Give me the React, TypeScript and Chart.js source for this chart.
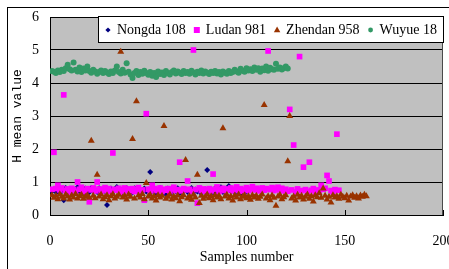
import React, { useEffect, useRef } from "react";
import { Chart, registerables } from "chart.js";

Chart.register(...registerables);

// ---------------- data ----------------
const seriesNames = ["Nongda 108", "Ludan 981", "Zhendan 958", "Wuyue 18"];

const nongda108 = [
  0.72, 0.78, 0.7, 0.8, 0.66, 0.75, 0.45, 0.82, 0.7, 0.76,
  0.68, 0.79, 0.73, 0.84, 0.71, 0.77, 0.65, 0.8, 0.74, 0.69,
  0.82, 0.72, 0.76, 0.7, 0.81, 0.67, 0.78, 0.73, 0.3, 0.75,
  0.8, 0.69, 0.77, 0.85, 0.72, 0.66, 0.79, 0.74, 0.82, 0.7,
  0.76, 0.68, 0.81, 0.73, 0.78, 0.64, 0.75, 0.8, 0.71, 0.77,
  1.3, 0.72, 0.79, 0.67, 0.75, 0.82, 0.7, 0.76, 0.63, 0.8,
  0.74, 0.69, 0.78, 0.72, 0.81, 0.66, 0.76, 0.73, 0.79, 0.7,
  0.75, 0.82, 0.68, 0.77, 0.71, 0.8, 0.65, 0.74, 0.78, 1.36,
  0.72, 0.76, 0.69, 0.81, 0.73, 0.77, 0.84, 0.7, 0.75, 0.79,
  0.88, 0.72, 0.76, 0.68, 0.8, 0.74, 0.78, 0.62, 0.75, 0.71,
];

const ludan981 = [
  0.78, 1.9, 0.8, 0.9, 0.76, 0.82, 3.64, 0.74, 0.79, 0.7,
  0.81, 0.77, 0.72, 1.0, 0.78, 0.84, 0.75, 0.7, 0.8, 0.4,
  0.76, 0.82, 0.73, 1.0, 0.79, 0.71, 0.77, 0.83, 0.74, 0.8,
  0.72, 1.88, 0.78, 0.75, 0.81, 0.69, 0.76, 0.82, 0.73, 0.79,
  0.74, 0.8, 0.71, 0.77, 0.83, 0.7, 0.76, 0.45, 3.07, 0.78,
  0.73, 0.9, 0.8, 0.74, 0.77, 0.82, 0.71, 0.78, 0.75, 0.8,
  0.72, 0.79, 0.84, 0.74, 0.77, 1.6, 0.73, 0.8, 0.76, 1.03,
  0.78, 0.71, 5.0, 0.77, 0.36, 0.82, 0.74, 0.79, 0.72, 0.76,
  0.8, 0.73, 1.24, 0.78, 0.85, 0.71, 0.77, 0.81, 0.74, 0.79,
  0.76, 0.82, 0.73, 0.78, 0.85, 0.75, 0.8, 0.72, 0.77, 0.83,
  0.74, 0.79, 0.86, 0.76, 0.81, 0.73, 0.78, 0.82, 0.75, 0.8,
  4.97, 0.77, 0.83, 0.74, 0.79, 0.84, 0.76, 0.81, 0.73, 0.78,
  0.72, 3.2, 0.76, 2.12, 0.7, 0.79, 4.8, 0.74, 1.45, 0.77,
  0.71, 1.6, 0.75, 0.8, 0.68, 0.76, 0.73, 0.9, 0.78, 0.81,
  1.2, 1.03, 0.74, 0.7, 0.77, 2.45, 0.75,
];

const zhendan958 = [
  0.6, 0.52, 0.58, 0.48, 0.63, 0.55, 0.5, 0.62, 0.56, 0.47,
  0.59, 0.53, 0.64, 0.5, 0.57, 0.61, 0.49, 0.55, 0.6, 0.52,
  2.25, 0.58, 0.51, 1.22, 0.56, 0.62, 0.48, 0.54, 0.6, 0.45,
  0.57, 0.63, 0.5, 0.55, 0.61, 4.95, 0.53, 0.58, 0.47, 0.62,
  0.55, 2.3, 0.5, 3.45, 0.59, 0.53, 0.64, 0.48, 0.97, 0.56,
  0.61, 0.5, 0.57, 0.44, 0.6, 0.53, 0.58, 2.7, 0.49, 0.55,
  0.62, 0.47, 0.56, 0.51, 0.59, 0.42, 0.54, 0.6, 1.67, 0.5,
  0.57, 0.46, 0.61, 0.53, 1.22, 0.36, 0.58, 0.49, 0.55, 0.62,
  0.51, 0.57, 0.45, 0.6, 0.53, 0.58, 0.48, 2.63, 0.56, 0.61,
  0.5, 0.57, 0.44, 0.59, 0.53, 0.62, 0.48, 0.55, 0.6, 0.51,
  0.57, 0.46, 0.6, 0.53, 0.58, 0.49, 0.55, 0.62, 3.33, 0.5,
  0.57, 0.45, 0.59, 0.52, 0.28, 0.56, 0.61, 0.48, 0.54, 0.6,
  1.63, 3.0, 0.5, 0.56, 0.44, 0.61, 0.53, 0.58, 0.47, 0.55,
  0.62, 0.49, 0.57, 0.41, 0.6, 0.54, 0.66, 0.52, 0.8, 0.58,
  0.47, 0.55, 0.38, 0.6, 0.53, 0.57, 0.49, 0.61, 0.55, 0.51,
  0.58, 0.44, 0.56, 0.6, 0.52, 0.57, 0.5, 0.59, 0.55, 0.61, 0.57,
];

const wuyue18 = [
  4.36, 4.34, 4.3, 4.38, 4.33, 4.4, 4.36, 4.45, 4.55, 4.42,
  4.38, 4.62, 4.4, 4.35, 4.47, 4.33, 4.44, 4.38, 4.5, 4.36,
  4.31, 4.4, 4.35, 4.28, 4.33, 4.38, 4.3, 4.36, 4.32, 4.27,
  4.35, 4.3, 4.38, 4.5, 4.33, 4.29, 4.4, 4.31, 4.6, 4.34,
  4.26, 4.15, 4.3, 4.36, 4.24, 4.33, 4.28, 4.37, 4.3, 4.25,
  4.33, 4.22, 4.3, 4.18, 4.35, 4.27, 4.32, 4.24, 4.36, 4.3,
  4.26, 4.33, 4.38, 4.29, 4.35, 4.31, 4.27, 4.36, 4.3, 4.33,
  4.28, 4.37, 4.32, 4.26, 4.34, 4.3, 4.38, 4.29, 4.35, 4.31,
  4.27, 4.34, 4.3, 4.36, 4.29, 4.33, 4.26, 4.35, 4.31, 4.28,
  4.36, 4.3, 4.33, 4.4, 4.35, 4.31, 4.43, 4.37, 4.34, 4.45,
  4.38, 4.42, 4.36, 4.47, 4.4, 4.45, 4.34, 4.44, 4.39, 4.5,
  4.37, 4.46, 4.42, 4.4, 4.58, 4.43, 4.47, 4.41, 4.45, 4.5, 4.44,
];

const xTickValues = [0, 50, 100, 150, 200];
const yTickValues = [0, 1, 2, 3, 4, 5, 6];
const xTitle = "Samples number";
const yTitle = "H mean value";

// ---------------- styles ----------------
const seriesColors = ["#000080", "#FF00FF", "#993300", "#339966"];
const seriesStyles = ["rectRot", "rect", "triangle", "circle"];
const seriesRadii = [3, 4, 4, 3];
const legendRadii = [2.6, 3, 3.6, 2.4];
const seriesOrder = [4, 3, 2, 1];

const toPoints = (vals: number[]) => vals.map((y, i) => ({ x: i + 1, y }));

function drawMarker(ctx: CanvasRenderingContext2D, style: string, x: number, y: number, r: number, color: string) {
  ctx.save();
  ctx.fillStyle = color;
  ctx.beginPath();
  if (style === "circle") {
    ctx.arc(x, y, r, 0, Math.PI * 2);
  } else if (style === "rect") {
    ctx.rect(x - r, y - r, 2 * r, 2 * r);
  } else if (style === "rectRot") {
    ctx.moveTo(x, y - r);
    ctx.lineTo(x + r, y);
    ctx.lineTo(x, y + r);
    ctx.lineTo(x - r, y);
    ctx.closePath();
  } else if (style === "triangle") {
    ctx.moveTo(x, y - r);
    ctx.lineTo(x + r * 0.9, y + r * 0.6);
    ctx.lineTo(x - r * 0.9, y + r * 0.6);
    ctx.closePath();
  }
  ctx.fill();
  ctx.restore();
}

const plotPlugin = {
  id: "plotDecor",
  beforeDraw(chart: any) {
    const { ctx, chartArea } = chart;
    const { left, top, right, bottom } = chartArea;
    ctx.save();
    ctx.fillStyle = "#C0C0C0";
    ctx.fillRect(left, top, right - left, bottom - top);
    ctx.restore();
  },
  afterDraw(chart: any) {
    const { ctx, chartArea } = chart;
    const { top, right, bottom } = chartArea;
    const xs = chart.scales.x;
    ctx.save();
    // right border of plot area
    ctx.strokeStyle = "#4a4a4a";
    ctx.lineWidth = 1;
    ctx.beginPath();
    ctx.moveTo(Math.round(right) - 0.5, top);
    ctx.lineTo(Math.round(right) - 0.5, bottom);
    ctx.stroke();
    // inner tick marks on x axis
    ctx.strokeStyle = "#000";
    xTickValues.forEach((v) => {
      const px = Math.round(xs.getPixelForValue(v)) + 0.5;
      ctx.beginPath();
      ctx.moveTo(px, bottom);
      ctx.lineTo(px, bottom - 5);
      ctx.stroke();
    });

    // legend box
    const bx = 98.5, by = 16.5, bw = 345, bh = 26;
    ctx.fillStyle = "#ffffff";
    ctx.fillRect(bx, by, bw, bh);
    ctx.strokeStyle = "#000";
    ctx.strokeRect(bx, by, bw, bh);
    ctx.font = "14px 'Liberation Serif', 'Times New Roman', serif";
    ctx.textBaseline = "middle";
    ctx.textAlign = "left";
    ctx.fillStyle = "#000";
    let cursor = 108;
    const cy = by + bh / 2 + 0.5;
    seriesNames.forEach((name, i) => {
      drawMarker(ctx, seriesStyles[i], cursor, cy, legendRadii[i], seriesColors[i]);
      ctx.fillStyle = "#000";
      const tx = cursor + 9;
      ctx.fillText(name, tx, cy);
      cursor = tx + ctx.measureText(name).width + 11;
    });
    ctx.restore();
  },
};

export default function App() {
  const canvasRef = useRef<HTMLCanvasElement | null>(null);

  useEffect(() => {
    if (!canvasRef.current) return;
    const seriesValues = [nongda108, ludan981, zhendan958, wuyue18];
    const chart = new Chart(canvasRef.current, {
      type: "scatter",
      data: {
        datasets: seriesNames.map((name, i) => ({
          label: name,
          data: toPoints(seriesValues[i]),
          backgroundColor: seriesColors[i],
          borderColor: seriesColors[i],
          pointStyle: seriesStyles[i] as any,
          pointRadius: seriesRadii[i],
          pointBorderWidth: 0,
          pointHoverRadius: seriesRadii[i],
          order: seriesOrder[i],
        })),
      },
      options: {
        animation: false,
        responsive: false,
        layout: { padding: { left: 0, top: 17, right: 6, bottom: 0 } },
        plugins: {
          legend: { display: false },
          tooltip: { enabled: false },
        },
        scales: {
          x: {
            type: "linear",
            min: 0,
            max: 200,
            afterBuildTicks: (scale: any) => {
              scale.ticks = xTickValues.map((v) => ({ value: v }));
            },
            afterFit: (scale: any) => {
              scale.height = 54;
              scale.paddingLeft = 0;
              scale.paddingRight = 0;
            },
            grid: { display: false, drawTicks: false },
            border: { display: true, color: "#000", width: 1 },
            ticks: {
              padding: 18,
              color: "#000",
              maxRotation: 0,
              autoSkip: false,
              font: { family: "'Liberation Serif', 'Times New Roman', serif", size: 14 },
            },
            title: {
              display: true,
              text: xTitle,
              color: "#000",
              padding: { top: 0, bottom: 3 },
              font: { family: "'Liberation Serif', 'Times New Roman', serif", size: 14 },
            },
          },
          y: {
            type: "linear",
            min: 0,
            max: 6,
            afterBuildTicks: (scale: any) => {
              scale.ticks = yTickValues.map((v) => ({ value: v }));
            },
            afterFit: (scale: any) => {
              scale.width = 50;
              scale.paddingTop = 0;
              scale.paddingBottom = 0;
            },
            grid: { color: "#000", lineWidth: 1, drawTicks: false },
            border: { display: true, color: "#000", width: 1 },
            ticks: {
              padding: 11,
              color: "#000",
              font: { family: "'Liberation Serif', 'Times New Roman', serif", size: 14 },
            },
            title: {
              display: true,
              text: yTitle,
              color: "#000",
              padding: { top: 10, bottom: 0 },
              font: { family: "'Liberation Mono', 'DejaVu Sans Mono', monospace", size: 13 },
            },
          },
        },
      },
      plugins: [plotPlugin],
    });
    return () => chart.destroy();
  }, []);

  return (
    <div style={{ position: "absolute", left: 0, top: 0, width: 449, height: 269, overflow: "hidden", background: "#fff" }}>
      <div
        style={{
          position: "absolute",
          left: 7,
          top: 7,
          width: 520,
          height: 320,
          borderTop: "1px solid #000",
          borderLeft: "1px solid #000",
        }}
      />
      <canvas
        ref={canvasRef}
        width={449}
        height={269}
        style={{ position: "absolute", left: 0, top: 0, display: "block" }}
      />
    </div>
  );
}
